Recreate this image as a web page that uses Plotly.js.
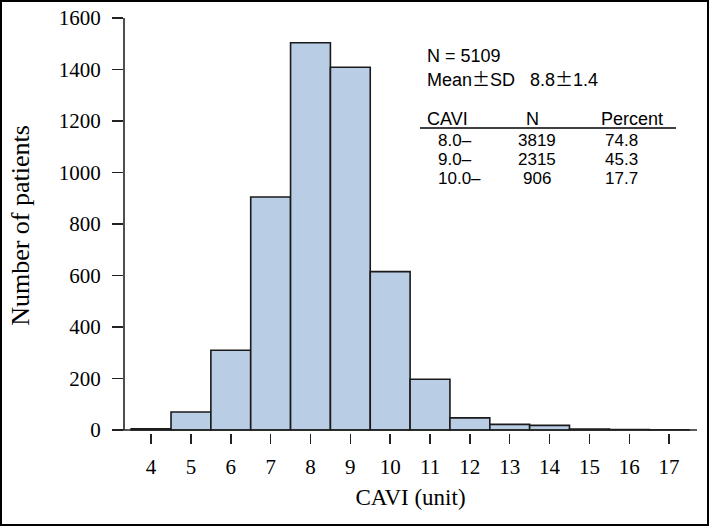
<!DOCTYPE html>
<html>
<head>
<meta charset="utf-8">
<script src="https://cdn.plot.ly/plotly-3.0.1.min.js"></script>
<style>
  html, body { margin: 0; padding: 0; background: #fff; }
  #plot { position: absolute; left: 0; top: 0; width: 709px; height: 526px; }
  #frame { position: absolute; left: 0; top: 0; width: 709px; height: 526px; box-sizing: border-box; border: 2px solid #000; pointer-events: none; }
</style>
</head>
<body>
<div id="plot"></div>
<div id="frame"></div>
<script>
// ---- data ----
const caviBins = [4, 5, 6, 7, 8, 9, 10, 11, 12, 13, 14, 15, 16, 17];
const patientCounts = [5, 70, 310, 905, 1504, 1409, 615, 197, 47, 22, 18, 4, 2, 1];
const xTickVals = [4, 5, 6, 7, 8, 9, 10, 11, 12, 13, 14, 15, 16, 17];
const yTickVals = [0, 200, 400, 600, 800, 1000, 1200, 1400, 1600];
const summaryN = "N = 5109";
const summaryMean = ["Mean", "±", "SD   8.8", "±", "1.4"];
const tableHeader = ["CAVI", "N", "Percent"];
const tableCavi = ["8.0–", "9.0–", "10.0–"];
const tableN = ["3819", "2315", "906"];
const tablePct = ["74.8", "45.3", "17.7"];

// ---- geometry helpers (pixel -> paper) ----
const W = 709, H = 526;
const L = 124, R = 697, T = 18, B = 433;
const px = x => (x - L) / (R - L);
const py = y => (B - y) / (B - T);

const sans = "Liberation Sans, Arial, sans-serif";
const cjk = "Noto Sans CJK JP";
const topFont = {family: sans, size: 18, color: "#000"};
const rowFont = {family: sans, size: 17, color: "#000"};

const annotations = [];
function ann(text, x, y, anchor, font) {
  annotations.push({text: text, x: px(x), y: py(y), xref: "paper", yref: "paper",
    xanchor: anchor, yanchor: "middle", showarrow: false, font: font, borderpad: 0});
}
const pm = s => '<span style="font-family:' + cjk + '">' + s + '</span>';
ann(summaryN, 426, 56, "left", topFont);
ann(summaryMean[0] + pm(summaryMean[1]) + summaryMean[2] + pm(summaryMean[3]) + summaryMean[4], 426, 78, "left", topFont);
ann(tableHeader[0], 426, 119, "left", topFont);
ann(tableHeader[1], 532, 119, "center", topFont);
ann(tableHeader[2], 632, 119, "center", topFont);
const rowY = [140, 159, 178];
for (let i = 0; i < tableCavi.length; i++) {
  ann(tableCavi[i], 437, rowY[i], "left", rowFont);
  ann(tableN[i], 537, rowY[i], "center", rowFont);
  ann(tablePct[i], 621, rowY[i], "center", rowFont);
}

const data = [{
  type: "bar",
  x: caviBins,
  y: patientCounts,
  width: 1,
  marker: {color: "#b9cde5", line: {color: "#1a1a1a", width: 1.6}},
  hoverinfo: "x+y"
}];

const serif = {family: "Liberation Serif, Times New Roman, serif", size: 21, color: "#000"};

const layout = {
  width: W, height: H,
  margin: {l: L, r: W - R, t: T, b: H - B, pad: 0},
  paper_bgcolor: "#fff", plot_bgcolor: "#fff",
  showlegend: false,
  bargap: 0,
  font: serif,
  xaxis: {
    range: [3.32, 17.70],
    tickmode: "array", tickvals: xTickVals, ticktext: xTickVals.map(String),
    ticks: "outside", ticklen: 10, tickwidth: 1.5, tickcolor: "#222",
    showline: false, showgrid: false, zeroline: false,
    tickfont: serif, ticklabelstandoff: 5,
    title: {text: "CAVI (unit)", font: {family: serif.family, size: 23, color: "#000"}, standoff: 10}
  },
  yaxis: {
    range: [-(B - 430) * 1600 / (430 - T), 1600],
    tickmode: "array", tickvals: yTickVals, ticktext: yTickVals.map(String),
    ticks: "outside", ticklen: 11, tickwidth: 1.5, tickcolor: "#222",
    showline: false, showgrid: false, zeroline: false,
    tickfont: serif, ticklabelstandoff: 7,
    title: {text: "Number of patients", font: {family: serif.family, size: 26, color: "#000"}, standoff: 21}
  },
  shapes: [
    {type: "line", xref: "paper", yref: "y", x0: 0, x1: 0, y0: 0, y1: 1600, line: {color: "#222", width: 1.6}},
    {type: "line", xref: "paper", yref: "y", x0: px(113), x1: 1, y0: 0, y1: 0, line: {color: "#222", width: 1.6}},
    {type: "line", xref: "paper", yref: "paper", x0: px(420), x1: px(676), y0: py(128), y1: py(128), line: {color: "#000", width: 1.5}}
  ],
  annotations: annotations
};

Plotly.newPlot("plot", data, layout, {displayModeBar: false, staticPlot: true});
</script>
</body>
</html>
